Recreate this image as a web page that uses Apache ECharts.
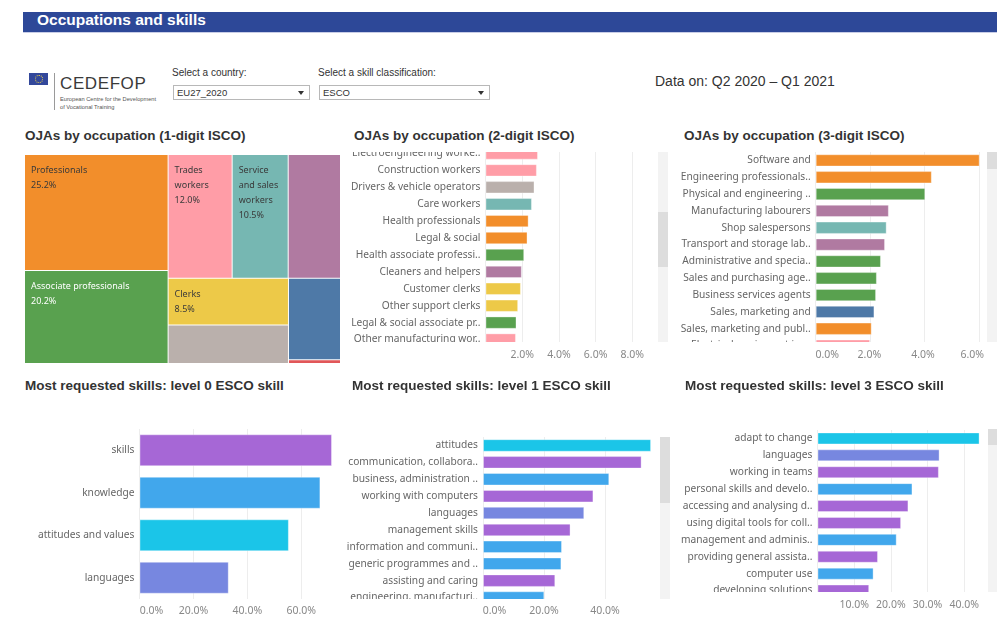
<!DOCTYPE html>
<html>
<head>
<meta charset="utf-8">
<title>Occupations and skills</title>
<script src="https://cdn.jsdelivr.net/npm/echarts@6/dist/echarts.min.js"></script>
<style>
  html, body { margin: 0; padding: 0; background: #fff; }
  body { width: 1004px; height: 617px; position: relative; overflow: hidden; font-family: "Liberation Sans", Arial, sans-serif; color: #333; }
  .band { position: absolute; left: 23px; top: 12px; width: 974px; height: 20px; background: #2d4898; border-bottom: 1px solid #c8cde6; }
  .band span { position: absolute; left: 14px; top: -1px; font-size: 15.5px; line-height: 18px; font-weight: bold; color: #fff; white-space: nowrap; }
  .txt { position: absolute; white-space: nowrap; }
  .title { position: absolute; font-weight: bold; font-size: 13.5px; line-height: 16px; color: #333; white-space: nowrap; }
  .dd { position: absolute; height: 15px; border: 1px solid #b8b8b8; background: #fff; box-sizing: border-box; }
  .dd span { position: absolute; left: 3px; top: 1px; font-size: 9.5px; line-height: 12px; color: #333; }
  .dd i { position: absolute; right: 5px; top: 5px; width: 0; height: 0; border-left: 3px solid transparent; border-right: 3px solid transparent; border-top: 4px solid #333; }
  .chart { position: absolute; }
  .vp { position: absolute; overflow: hidden; }
  .track { position: absolute; background: #f3f3f3; }
  .thumb { position: absolute; left: 0; right: 0; background: #dddddd; }
</style>
</head>
<body>
  <div class="band"><span>Occupations and skills</span></div>

  <!-- logo -->
  <div style="position:absolute;left:29px;top:73px;width:19px;height:12px;background:#33489b;"></div>
  <div style="position:absolute;left:35px;top:75px;width:6px;height:6px;border:1px dotted #f1d54a;border-radius:50%;"></div>
  <div style="position:absolute;left:54px;top:73px;width:1px;height:37px;background:#9a9a9a;"></div>
  <div class="txt" style="left:60px;top:75px;font-size:17px;line-height:17px;letter-spacing:0.6px;color:#3a3a3a;">CEDEFOP</div>
  <div class="txt" style="left:60px;top:96px;font-size:5.7px;line-height:7px;color:#555;">European Centre for the Development</div>
  <div class="txt" style="left:60px;top:104px;font-size:5.7px;line-height:7px;color:#555;">of Vocational Training</div>

  <!-- filters -->
  <div class="txt" style="left:172px;top:67px;font-size:10px;line-height:12px;">Select a country:</div>
  <div class="dd" style="left:173px;top:85px;width:137px;"><span>EU27_2020</span><i></i></div>
  <div class="txt" style="left:318px;top:67px;font-size:10px;line-height:12px;">Select a skill classification:</div>
  <div class="dd" style="left:319px;top:85px;width:171px;"><span>ESCO</span><i></i></div>
  <div class="txt" style="left:655px;top:73px;font-size:14px;line-height:16px;">Data on: Q2 2020 – Q1 2021</div>

  <!-- top row -->
  <div class="title" style="left:25px;top:128px;">OJAs by occupation (1-digit ISCO)</div>
  <div class="chart" id="tree" style="left:25px;top:155px;width:315px;height:208px;"></div>

  <div class="title" style="left:354px;top:128px;">OJAs by occupation (2-digit ISCO)</div>
  <div class="vp" style="left:341px;top:151.7px;width:317px;height:190.6px;">
    <div class="chart" id="isco2" style="left:0;top:-6.75px;width:317px;height:203px;"></div>
  </div>
  <div class="chart" id="isco2Axis" style="left:341px;top:342.3px;width:317px;height:24px;"></div>
  <div class="track" style="left:658px;top:151.7px;width:10px;height:190.6px;"><div class="thumb" style="top:60px;height:55px;"></div></div>

  <div class="title" style="left:684px;top:128px;">OJAs by occupation (3-digit ISCO)</div>
  <div class="vp" style="left:671px;top:151.7px;width:316px;height:190.6px;">
    <div class="chart" id="isco3" style="left:0;top:0.2px;width:316px;height:202px;"></div>
  </div>
  <div class="chart" id="isco3Axis" style="left:671px;top:342.3px;width:316px;height:24px;"></div>
  <div class="track" style="left:987px;top:151.7px;width:10px;height:190.6px;"><div class="thumb" style="top:0;height:17px;"></div></div>

  <!-- bottom row -->
  <div class="title" style="left:25px;top:378px;">Most requested skills: level 0 ESCO skill</div>
  <div class="chart" id="level0" style="left:20px;top:420px;width:319px;height:197px;"></div>

  <div class="title" style="left:352px;top:378px;">Most requested skills: level 1 ESCO skill</div>
  <div class="vp" style="left:341px;top:436.7px;width:318px;height:162.6px;">
    <div class="chart" id="level1" style="left:0;top:0.5px;width:318px;height:169px;"></div>
  </div>
  <div class="chart" id="level1Axis" style="left:341px;top:599.3px;width:318px;height:18px;"></div>
  <div class="track" style="left:659.5px;top:436.7px;width:10px;height:162.6px;"><div class="thumb" style="top:0;height:66px;"></div></div>

  <div class="title" style="left:685px;top:378px;">Most requested skills: level 3 ESCO skill</div>
  <div class="vp" style="left:671px;top:429.3px;width:316.5px;height:162.4px;">
    <div class="chart" id="level3" style="left:0;top:0.45px;width:317px;height:169px;"></div>
  </div>
  <div class="chart" id="level3Axis" style="left:671px;top:591.7px;width:317px;height:24px;"></div>
  <div class="track" style="left:987.5px;top:429.3px;width:9.5px;height:162.4px;"><div class="thumb" style="top:0;height:16px;"></div></div>

<script>
// OJAs by 1-digit ISCO (share, %)
const isco1Names = ['Professionals', 'Associate professionals', 'Trades workers', 'Service and sales workers',
  'Elementary occupations', 'Clerks', 'Plant and machine operators', 'Managers', 'Skilled agricultural workers'];
const isco1Values = [25.2, 20.2, 12.0, 10.5, 9.8, 8.5, 7.0, 6.4, 0.3];

// 2-digit ISCO, visible part of the scrolled list
const isco2Names = ['Electroengineering worke..', 'Construction workers', 'Drivers & vehicle operators', 'Care workers',
  'Health professionals', 'Legal & social', 'Health associate professi..', 'Cleaners and helpers',
  'Customer clerks', 'Other support clerks', 'Legal & social associate pr..', 'Other manufacturing wor..'];
const isco2Values = [2.86, 2.80, 2.67, 2.53, 2.35, 2.29, 2.11, 1.98, 1.93, 1.78, 1.69, 1.66];
const isco2Groups = ['Trades workers', 'Trades workers', 'Plant and machine operators', 'Service and sales workers',
  'Professionals', 'Professionals', 'Associate professionals', 'Elementary occupations',
  'Clerks', 'Clerks', 'Associate professionals', 'Trades workers'];

// 3-digit ISCO
const isco3Names = ['Software and', 'Engineering professionals..', 'Physical and engineering ..', 'Manufacturing labourers',
  'Shop salespersons', 'Transport and storage lab..', 'Administrative and specia..', 'Sales and purchasing age..',
  'Business services agents', 'Sales, marketing and', 'Sales, marketing and publ..', 'Electrical equipment ins..'];
const isco3Values = [6.03, 4.27, 4.03, 2.69, 2.61, 2.55, 2.40, 2.25, 2.22, 2.16, 2.06, 2.00];
const isco3Groups = ['Professionals', 'Professionals', 'Associate professionals', 'Elementary occupations',
  'Service and sales workers', 'Elementary occupations', 'Associate professionals', 'Associate professionals',
  'Associate professionals', 'Managers', 'Professionals', 'Trades workers'];

// ESCO skills
const level0Names = ['skills', 'knowledge', 'attitudes and values', 'languages'];
const level0Values = [71.4, 67.1, 55.4, 33.1];

const level1Names = ['attitudes', 'communication, collabora..', 'business, administration ..', 'working with computers',
  'languages', 'management skills', 'information and communi..', 'generic programmes and ..',
  'assisting and caring', 'engineering, manufacturi..'];
const level1Values = [55.1, 52.0, 41.4, 36.2, 33.2, 28.7, 25.9, 25.7, 23.7, 20.1];
const level1Groups = ['attitudes and values', 'skills', 'knowledge', 'skills', 'languages', 'skills',
  'knowledge', 'knowledge', 'skills', 'knowledge'];

const level3Names = ['adapt to change', 'languages', 'working in teams', 'personal skills and develo..',
  'accessing and analysing d..', 'using digital tools for coll..', 'management and adminis..',
  'providing general assista..', 'computer use', 'developing solutions'];
const level3Values = [44.2, 33.3, 33.1, 25.9, 24.8, 22.8, 21.6, 16.5, 15.3, 14.1];
const level3Groups = ['attitudes and values', 'languages', 'skills', 'knowledge', 'skills', 'skills',
  'knowledge', 'skills', 'knowledge', 'skills'];

const occColors = {
  'Professionals': '#f28e2b',
  'Associate professionals': '#59a14f',
  'Trades workers': '#ff9da7',
  'Service and sales workers': '#76b7b2',
  'Elementary occupations': '#b07aa1',
  'Clerks': '#edc948',
  'Plant and machine operators': '#bab0ac',
  'Managers': '#4e79a7',
  'Skilled agricultural workers': '#e15759'
};
const skillColors = {
  'skills': '#a667d6',
  'knowledge': '#41a7ec',
  'attitudes and values': '#1bc5e8',
  'languages': '#7787e0'
};

const FONT = 'Noto Sans';
const pct = v => v.toFixed(1) + '%';

function textOn(hex) {
  const n = parseInt(hex.slice(1), 16);
  const lum = 0.3 * (n >> 16) + 0.59 * ((n >> 8) & 255) + 0.11 * (n & 255);
  return lum < 140 ? '#ffffff' : '#3a3a3a';
}

// treemap
const unlabelled = ['Elementary occupations', 'Plant and machine operators', 'Managers', 'Skilled agricultural workers'];
const tree = echarts.init(document.getElementById('tree'));
tree.setOption({
  animation: false,
  series: [{
    type: 'treemap',
    left: 0, top: 0, right: 0, bottom: 0,
    roam: false,
    nodeClick: false,
    sort: 'desc',
    breadcrumb: { show: false },
    itemStyle: { borderColor: '#fff', borderWidth: 0, gapWidth: 1 },
    label: {
      show: true,
      position: 'insideTopLeft',
      padding: [8, 4, 0, 6],
      fontFamily: FONT,
      fontSize: 9,
      lineHeight: 15,
      overflow: 'break',
      formatter: p => p.name + '\n' + pct(p.value)
    },
    data: isco1Names.map((n, i) => ({
      name: n,
      value: isco1Values[i],
      itemStyle: { color: occColors[n] },
      label: { show: !unlabelled.includes(n), color: textOn(occColors[n]) }
    }))
  }]
});

// bars inside a scrolled window (no tick labels, those go in a separate strip)
function barChart(id, names, values, colors, gridLeft, max, interval, gap) {
  const c = echarts.init(document.getElementById(id));
  c.setOption({
    animation: false,
    grid: { left: gridLeft, right: 0, top: 0, bottom: 0 },
    xAxis: {
      type: 'value', min: 0, max: max, interval: interval,
      axisLabel: { show: false }, axisLine: { show: false }, axisTick: { show: false },
      splitLine: { lineStyle: { color: '#ededed' } }
    },
    yAxis: {
      type: 'category', inverse: true, data: names,
      axisLine: { show: false }, axisTick: { show: false },
      axisLabel: { interval: 0, margin: 5, fontFamily: FONT, fontSize: 10.2, color: '#666' }
    },
    series: [{
      type: 'bar',
      barCategoryGap: gap,
      silent: true,
      itemStyle: { borderColor: 'rgba(255,255,255,0.35)', borderWidth: 1 },
      data: values.map((v, i) => ({ value: v, itemStyle: { color: colors[i] } }))
    }]
  });
  return c;
}

// tick label strip under a scrolled window, same scale as the bars above
function tickAxis(id, gridLeft, max, interval, margin, labelFmt, showMin) {
  const c = echarts.init(document.getElementById(id));
  c.setOption({
    animation: false,
    grid: { left: gridLeft, right: 0, top: 0, height: 1 },
    xAxis: {
      type: 'value', min: 0, max: max, interval: interval,
      axisLine: { show: false }, axisTick: { show: false }, splitLine: { show: false },
      axisLabel: {
        margin: margin, fontFamily: FONT, fontSize: 10.5, color: '#888',
        showMinLabel: showMin, showMaxLabel: false,
        formatter: labelFmt,
        rich: { first: { padding: [0, 0, 0, 23] }, last: { padding: [0, 9, 0, 0] } }
      }
    },
    yAxis: { type: 'value', show: false },
    series: []
  });
  return c;
}

const firstShift = v => v === 0 ? '{first|' + pct(v) + '}' : pct(v);

barChart('isco2', isco2Names, isco2Values, isco2Groups.map(g => occColors[g]), 144.5, 9.4, 2, '27%');
tickAxis('isco2Axis', 144.5, 9.4, 2, 7, pct, false);

barChart('isco3', isco3Names, isco3Values, isco3Groups.map(g => occColors[g]), 144.7, 6.3, 2, '27%');
tickAxis('isco3Axis', 144.7, 6.3, 2, 7, v => v === 0 ? '{first|' + pct(v) + '}' : v === 6 ? '{last|' + pct(v) + '}' : pct(v), true);

barChart('level1', level1Names, level1Values, level1Groups.map(g => skillColors[g]), 142, 57.7, 20, '26%');
tickAxis('level1Axis', 142, 57.7, 20, 6, firstShift, true);

barChart('level3', level3Names, level3Values, level3Groups.map(g => skillColors[g]), 146.5, 46.5, 10, '29%');
tickAxis('level3Axis', 146.5, 46.5, 10, 6.3, pct, false);

// level 0: short list, no scrolling
const level0 = echarts.init(document.getElementById('level0'));
level0.setOption({
  animation: false,
  grid: { left: 119.5, top: 9, height: 170, width: 200 },
  xAxis: {
    type: 'value', min: 0, max: 74, interval: 20,
    axisLine: { show: false }, axisTick: { show: false },
    splitLine: { lineStyle: { color: '#ededed' } },
    axisLabel: {
      margin: 7, fontFamily: FONT, fontSize: 10.5, color: '#888', showMaxLabel: false,
      formatter: firstShift,
      rich: { first: { padding: [0, 0, 0, 24] } }
    }
  },
  yAxis: {
    type: 'category', inverse: true, data: level0Names,
    axisLine: { show: false }, axisTick: { show: false },
    axisLabel: { interval: 0, margin: 5, fontFamily: FONT, fontSize: 10.2, color: '#666' }
  },
  series: [{
    type: 'bar',
    barCategoryGap: '25%',
    silent: true,
    itemStyle: { borderColor: 'rgba(255,255,255,0.35)', borderWidth: 1 },
    data: level0Values.map((v, i) => ({ value: v, itemStyle: { color: skillColors[level0Names[i]] } }))
  }]
});
</script>
</body>
</html>
